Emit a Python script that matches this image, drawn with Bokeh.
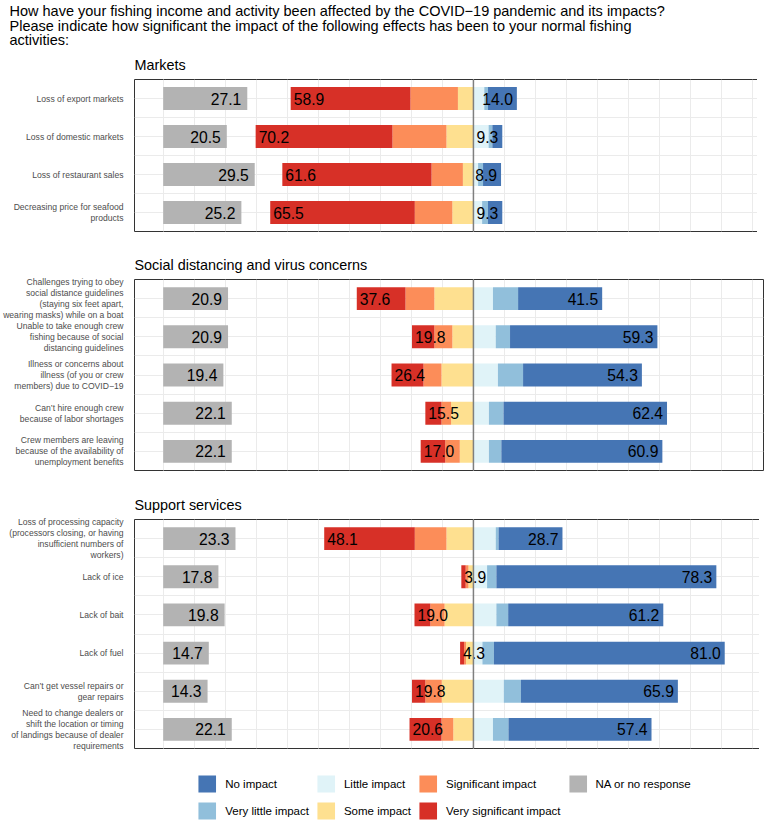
import numpy as np
from bokeh.plotting import figure
from bokeh.layouts import column
from bokeh.models import ColumnDataSource, FixedTicker, Grid, Span, Legend, LegendItem, Range1d
from bokeh.transform import stack
from bokeh.embed import file_html
from bokeh.resources import INLINE
from bokeh.core.properties import value

FONT = "Liberation Sans"

QUESTION = ("How have your fishing income and activity been affected by the COVID\u221219 pandemic and its impacts?\n"
            "Please indicate how significant the impact of the following effects has been to your normal fishing\n"
            "activities:")

LEVELS = ["No impact", "Very little impact", "Little impact", "Some impact",
          "Significant impact", "Very significant impact", "NA or no response"]
COLORS = ["#4575B4", "#91BFDB", "#E0F3F8", "#FEE090", "#FC8D59", "#D73027", "#B3B3B3"]

# ---- Markets ----
markets_title = "Markets"
markets_items = ["Loss of export markets", "Loss of domestic markets", "Loss of restaurant sales",
                 "Decreasing price for seafood\nproducts"]
markets_na = [27.1, 20.5, 29.5, 25.2]
markets_very_sig = [38.6, 44.1, 48.1, 46.6]
markets_sig = [15.3, 17.4, 10.1, 12.1]
markets_some = [5.0, 8.7, 3.4, 6.8]
markets_little = [3.5, 4.9, 1.5, 2.8]
markets_very_little = [1.2, 1.2, 1.6, 1.9]
markets_no = [9.3, 3.2, 5.8, 4.6]

# ---- Social distancing ----
social_title = "Social distancing and virus concerns"
social_items = ["Challenges trying to obey\nsocial distance guidelines\n(staying six feet apart,\nwearing masks) while on a boat",
                "Unable to take enough crew\nfishing because of social\ndistancing guidelines",
                "Illness or concerns about\nillness (of you or crew\nmembers) due to COVID\u221219",
                "Can\u2019t hire enough crew\nbecause of labor shortages",
                "Crew members are leaving\nbecause of the availability of\nunemployment benefits"]
social_na = [20.9, 20.9, 19.4, 22.1, 22.1]
social_very_sig = [15.7, 7.2, 10.3, 5.2, 7.9]
social_sig = [9.3, 5.8, 5.8, 3.1, 4.7]
social_some = [12.6, 6.8, 10.3, 7.2, 4.4]
social_little = [6.3, 7.2, 7.9, 5.0, 5.0]
social_very_little = [8.1, 4.6, 8.1, 4.7, 4.0]
social_no = [27.1, 47.5, 38.3, 52.7, 51.9]

# ---- Support services ----
support_title = "Support services"
support_items = ["Loss of processing capacity\n(processors closing, or having\ninsufficient numbers of\nworkers)",
                 "Lack of ice", "Lack of bait", "Lack of fuel",
                 "Can\u2019t get vessel repairs or\ngear repairs",
                 "Need to change dealers or\nshift the location or timing\nof landings because of dealer\nrequirements"]
support_na = [23.3, 17.8, 19.8, 14.7, 14.3, 22.1]
support_very_sig = [29.2, 1.4, 5.1, 1.3, 4.3, 10.3]
support_sig = [10.2, 0.9, 4.6, 0.6, 5.3, 3.8]
support_some = [8.7, 1.6, 9.3, 2.4, 10.2, 6.5]
support_little = [7.2, 4.4, 7.4, 2.9, 9.8, 6.3]
support_very_little = [0.9, 3.0, 3.8, 3.7, 5.5, 5.0]
support_no = [20.6, 70.9, 50.0, 74.4, 50.6, 46.1]

NA_START = -100
X_RANGE = (-109.25, 93.5)
FRAME_W = 629
BORDER_L = 126
BAR_H = 0.6
LABEL_SIZE = "15.7px"


def panel(title, items, na, vsig, sig, some, little, vlittle, no, frame_h, top_b, bottom_b):
    n = len(items)
    ypos = list(range(n, 0, -1))
    na = np.array(na, float)
    neg = [-np.array(v, float) for v in (some, sig, vsig)]
    pos = [np.array(v, float) for v in (little, vlittle, no)]
    src = ColumnDataSource(dict(
        y=ypos,
        na_start=np.full(n, float(NA_START)), na_end=NA_START + na,
        some_n=neg[0], sig_n=neg[1], vsig_n=neg[2],
        little=pos[0], vlittle=pos[1], no=pos[2],
        na_lab=[f"{v:.1f}" for v in na],
        neg_lab=[f"{-v:.1f}" for v in (neg[0] + neg[1] + neg[2])],
        pos_lab=[f"{v:.1f}" for v in (pos[0] + pos[1] + pos[2])],
    ))
    p = figure(frame_width=FRAME_W, frame_height=frame_h,
               x_range=Range1d(*X_RANGE), y_range=Range1d(0.5, n + 0.5),
               x_axis_location=None, output_backend="svg", toolbar_location=None,
               min_border_left=BORDER_L, min_border_right=2,
               min_border_top=top_b, min_border_bottom=bottom_b)
    p.background_fill_color = "white"
    p.outline_line_color = "#333333"
    p.outline_line_width = 1

    p.title.text = title
    p.title.align = "left"
    p.title.text_font = FONT
    p.title.text_font_size = "14.4px"
    p.title.text_font_style = "normal"
    p.title.text_color = "black"
    p.title.standoff = 13

    tk = FixedTicker(ticks=ypos, minor_ticks=[k + 0.5 for k in range(1, n)])
    ax = p.yaxis[0]
    ax.ticker = tk
    ax.major_label_overrides = {float(yv): lab for yv, lab in zip(ypos, items)}
    ax.axis_line_color = None
    ax.major_tick_line_color = None
    ax.minor_tick_line_color = None
    ax.major_label_standoff = 5
    ax.major_label_text_font = FONT
    ax.major_label_text_font_size = "8.6px"
    ax.major_label_text_color = "#4D4D4D"
    ax.major_label_text_line_height = 1.1
    p.ygrid.ticker = tk
    p.ygrid.grid_line_color = "#EBEBEB"
    p.ygrid.minor_grid_line_color = "#EBEBEB"
    p.add_layout(Grid(dimension=0, ticker=FixedTicker(ticks=list(range(-100, 91, 10))),
                      grid_line_color="#EBEBEB"))

    r_na = p.hbar(y="y", left="na_start", right="na_end", height=BAR_H,
                  fill_color=COLORS[6], line_color=None, source=src)
    r_neg = p.hbar_stack(["some_n", "sig_n", "vsig_n"], y="y", height=BAR_H,
                         fill_color=[COLORS[3], COLORS[4], COLORS[5]], line_color=None, source=src)
    r_pos = p.hbar_stack(["little", "vlittle", "no"], y="y", height=BAR_H,
                         fill_color=[COLORS[2], COLORS[1], COLORS[0]], line_color=None, source=src)

    p.add_layout(Span(location=0, dimension="height", line_color="#7F7F7F", line_width=1.5))

    common = dict(y="y", source=src, text_baseline="middle", text_font=value(FONT),
                  text_font_size=LABEL_SIZE, text_color="black")
    p.text(x="na_end", text="na_lab", text_align="right", x_offset=-6, **common)
    p.text(x=stack("some_n", "sig_n", "vsig_n"), text="neg_lab", text_align="left", x_offset=3, **common)
    p.text(x=stack("little", "vlittle", "no"), text="pos_lab", text_align="right", x_offset=-4, **common)

    renderers = {"No impact": r_pos[2], "Very little impact": r_pos[1], "Little impact": r_pos[0],
                 "Some impact": r_neg[0], "Significant impact": r_neg[1],
                 "Very significant impact": r_neg[2], "NA or no response": r_na}
    return p, renderers


# title figure
tfig = figure(width=758, height=48, x_axis_location=None, y_axis_location=None,
              min_border_left=BORDER_L, min_border_right=2, min_border_top=0, min_border_bottom=0,
              outline_line_color=None, output_backend="svg", toolbar_location=None)
tfig.xgrid.visible = False
tfig.ygrid.visible = False
tfig.title.text = QUESTION
tfig.title.align = "left"
tfig.title.offset = -BORDER_L + 1
tfig.title.text_font = FONT
tfig.title.text_font_size = "14.5px"
tfig.title.text_font_style = "normal"
tfig.title.text_color = "black"
tfig.title.text_line_height = 0.93
tfig.title.standoff = 0

p1, _ = panel(markets_title, markets_items, markets_na, markets_very_sig, markets_sig, markets_some,
              markets_little, markets_very_little, markets_no, 152, 30, 1)
p2, _ = panel(social_title, social_items, social_na, social_very_sig, social_sig, social_some,
              social_little, social_very_little, social_no, 191, 47, 1)
p3, rends = panel(support_title, support_items, support_na, support_very_sig, support_sig, support_some,
                  support_little, support_very_little, support_no, 229, 48, 74)

legend = Legend(items=[LegendItem(label=lv, renderers=[rends[lv]]) for lv in LEVELS],
                orientation="vertical", nrows=2, location="top_center",
                glyph_width=22, glyph_height=21, label_height=21, label_standoff=7, spacing=6,
                label_text_font=FONT, label_text_font_size="11.5px", label_text_color="black",
                border_line_color=None, background_fill_alpha=0, margin=25, padding=0)
p3.add_layout(legend, "below")

layout = column(tfig, p1, p2, p3, spacing=0)
open("out.html", "w").write(file_html(layout, INLINE))
